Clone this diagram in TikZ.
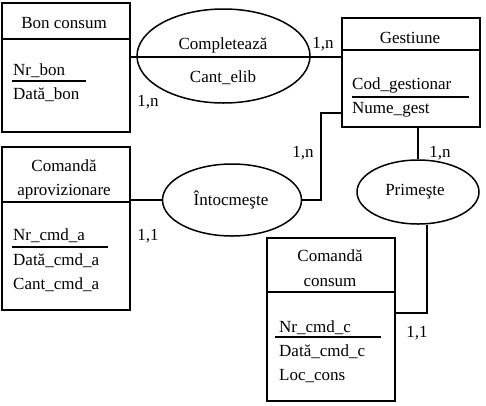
\documentclass[tikz,border=0pt]{standalone}
\usepackage{fontspec}
\setmainfont{Liberation Serif}
\usetikzlibrary{positioning,shapes.geometric}

\tikzset{
    entity/.style={draw,line width=1.5pt,inner sep=0pt},
    relation/.style={draw,ellipse,line width=1.5pt,inner sep=0pt},
    link/.style={line width=1.5pt},
    txt/.style={inner sep=0pt,anchor=base,font=\fontsize{17}{20}\selectfont},
    attr/.style={txt,anchor=base west}
}

\begin{document}
\begin{tikzpicture}[x=1pt,y=-1pt]
        \useasboundingbox (0,0) rectangle (486,405);
        % Entities
        \node[entity,minimum width=128pt,minimum height=129pt] (bon) at (66,67.5) {};
        \node[entity,minimum width=138pt,minimum height=109pt] (gest) at (411,72.5) {};
        \node[entity,minimum width=128pt,minimum height=163pt] (aprov) at (66,228.5) {};
        \node[entity,minimum width=128pt,minimum height=163pt] (cons) at (331,319.5) {};
        % Relations
        \node[relation,minimum width=173pt,minimum height=94pt] (compl) at (223.5,56) {};
        \node[relation,minimum width=139pt,minimum height=72pt] (intoc) at (232,200) {};
        \node[relation,minimum width=122pt,minimum height=64pt] (prim) at (418,192) {};

        % header lines and key underlines
        \draw[link] (bon.west |- 0,39) -- (bon.east |- 0,39);
        \draw[link] (gest.west |- 0,50) -- (gest.east |- 0,50);
        \draw[link] (aprov.west |- 0,202) -- (aprov.east |- 0,202);
        \draw[link] (cons.west |- 0,292) -- (cons.east |- 0,292);
        \draw[link] (12,81) -- (86,81);
        \draw[link] (352,97) -- (469,97);
        \draw[link] (12,247) -- (108,247);
        \draw[link] (275,337) -- (381,337);

        % Bon consum
        \node[txt] (bonT) at (64,28) {Bon consum};
        \node[attr] (bonA) at (13,75) {Nr\_bon};
        \node[attr] (bonB) at (13,99) {Dată\_bon};
        % Gestiune
        \node[txt] (gestT) at (410,43) {Gestiune};
        \node[attr] (gestA) at (352,89) {Cod\_gestionar};
        \node[attr] (gestB) at (352,113) {Nume\_gest};
        % Comanda aprovizionare
        \node[txt] (aprovT) at (64,171) {Comandă};
        \node[txt] (aprovU) at (64,195) {aprovizionare};
        \node[attr] (aprovA) at (13,240) {Nr\_cmd\_a};
        \node[attr] (aprovB) at (13,265) {Dată\_cmd\_a};
        \node[attr] (aprovC) at (13,289) {Cant\_cmd\_a};
        % Comanda consum
        \node[txt] (consT) at (330,261) {Comandă};
        \node[txt] (consU) at (330,286) {consum};
        \node[attr] (consA) at (279,332) {Nr\_cmd\_c};
        \node[attr] (consB) at (279,356) {Dată\_cmd\_c};
        \node[attr] (consC) at (279,380) {Loc\_cons};

        % relation texts
        \node[txt] (complT) at (223,49) {Completează};
        \node[txt] (complA) at (223,82) {Cant\_elib};
        \node[txt] (intocT) at (231,205) {Întocmeşte};
        \node[txt] (primT) at (415,195) {Primeşte};

        % connectors
        \coordinate (ig) at (321,113);
        \coordinate (pc) at (427,313);
        \draw[link] (bon.east |- 0,57) -- (compl.west |- 0,57) -- (compl.east |- 0,57) -- (gest.west |- 0,57);
        \draw[link] (aprov.east |- intoc.west) -- (intoc.west);
        \draw[link] (intoc.east) -| (ig) -- (ig -| gest.west);
        \draw[link] (prim.north |- gest.south) -- (prim.north);
        \draw[link] (pc |- prim.south) -- (pc) -- (pc -| cons.east);

        % cardinalities
        \node[txt] (c1) at (148,106) {1,n};
        \node[txt] (c2) at (323,48) {1,n};
        \node[txt] (c3) at (303,157) {1,n};
        \node[txt] (c4) at (148,240) {1,1};
        \node[txt] (c5) at (440,157) {1,n};
        \node[txt] (c6) at (417,337) {1,1};
\end{tikzpicture}
\end{document}
